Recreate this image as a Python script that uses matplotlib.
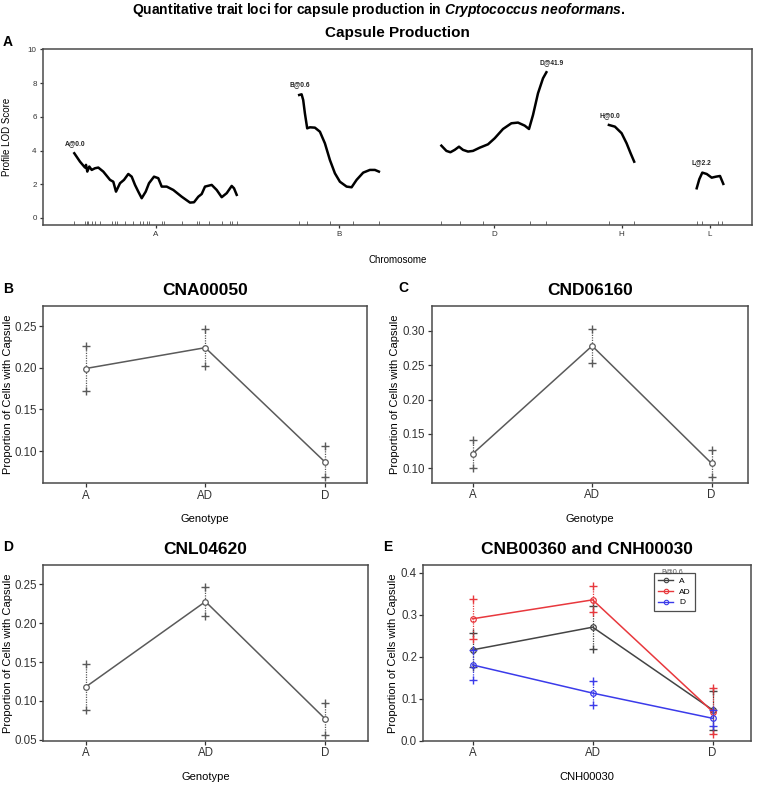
import matplotlib
matplotlib.use("Agg")
import matplotlib.pyplot as plt
from matplotlib.lines import Line2D
import numpy as np

plt.rcParams['font.family'] = ['Liberation Sans', 'DejaVu Sans']
plt.rcParams['mathtext.fontset'] = 'custom'
plt.rcParams['mathtext.it'] = 'Liberation Sans:italic:bold'
plt.rcParams['mathtext.rm'] = 'Liberation Sans:bold'

# --- Panel A: LOD profile per chromosome (position within chromosome, LOD) ---
chrom_names = ['A', 'B', 'D', 'H', 'L']
chrom_len = [162.4, 79.7, 105.0, 25.3, 26.6]
chrom_gap = 62.5

pos_A = [0, 5.7, 10.7, 11.7, 13, 15, 17.4, 20.7, 24, 29, 35.7, 39, 41.7, 45.7, 49.7,
         54, 57.4, 60.7, 64, 67.4, 71.4, 74.7, 79.7, 84, 87.4, 92.4, 99, 107.4, 115.7,
         119.7, 124, 127.4, 130.7, 137.4, 142.4, 147.4, 152.4, 157.4, 159.7, 162.4]
lod_A = [3.84, 3.34, 2.99, 3.15, 2.75, 3.05, 2.85, 2.95, 2.99, 2.75, 2.26, 2.15, 1.56,
         2.06, 2.26, 2.61, 2.45, 1.96, 1.56, 1.17, 1.56, 2.06, 2.45, 2.36, 1.86, 1.86,
         1.66, 1.26, 0.91, 0.93, 1.26, 1.42, 1.86, 1.96, 1.66, 1.23, 1.47, 1.90, 1.76, 1.37]
pos_B = [0, 2.4, 4, 5.7, 8, 10.7, 15.7, 20.7, 25.7, 30.7, 35.7, 40.7, 47.4, 52.4,
         57.4, 64, 70.7, 75.7, 79.7]
lod_B = [7.30, 7.34, 7.0, 6.21, 5.32, 5.38, 5.36, 5.12, 4.43, 3.44, 2.65, 2.15, 1.86,
         1.82, 2.26, 2.69, 2.85, 2.85, 2.75]
pos_D = [0, 5, 9, 13.3, 17.6, 21.6, 26.6, 31.6, 38.3, 46.6, 53.3, 61.6, 70, 76.6,
         83.3, 87.6, 91.6, 96.6, 101.6, 105]
lod_D = [4.29, 3.98, 3.90, 4.04, 4.23, 4.04, 3.94, 3.98, 4.17, 4.37, 4.73, 5.28, 5.62,
         5.66, 5.48, 5.28, 6.11, 7.40, 8.29, 8.65]
pos_H = [0, 6, 12.7, 17.7, 21.7, 25.3]
lod_H = [5.52, 5.42, 5.03, 4.43, 3.84, 3.34]
pos_L = [0, 2.6, 5.6, 10, 15, 19.3, 23.3, 26.6]
lod_L = [1.76, 2.30, 2.69, 2.61, 2.39, 2.45, 2.49, 2.02]

# genetic markers (rug)
mark_A = [0, 10.7, 12.4, 14, 17.4, 20.7, 25.7, 37.4, 40.7, 42.4, 50.7, 59, 65.7, 69,
          72.4, 74.7, 87.4, 89.7, 107.4, 122.4, 124.7, 135, 147.4, 155.7, 158, 162.4]
mark_B = [0, 8, 30.7, 54, 79.7]
mark_D = [0, 18.3, 41.6, 88.3, 105]
mark_H = [0, 25.3]
mark_L = [0.6, 5, 21.6, 25.6]

peak_labels = ['A@0.0', 'B@0.6', 'D@41.9', 'H@0.0', 'L@2.2']
peak_pos = [0.7, 0.7, 110.3, 1.0, 5.0]
peak_lod = [4.4, 7.9, 9.2, 6.1, 3.26]

# --- Panels B-E: effect plots ---
genotypes = ['A', 'AD', 'D']
cna00050_mean = [0.199, 0.224, 0.087]
cna00050_lo = [0.1725, 0.2015, 0.069]
cna00050_hi = [0.2255, 0.246, 0.106]
cnd06160_mean = [0.121, 0.278, 0.107]
cnd06160_lo = [0.101, 0.253, 0.088]
cnd06160_hi = [0.141, 0.302, 0.127]
cnl04620_mean = [0.118, 0.2275, 0.077]
cnl04620_lo = [0.0885, 0.209, 0.056]
cnl04620_hi = [0.147, 0.246, 0.097]

e_groups = ['A', 'AD', 'D']  # B@0.6 genotype
e_mean = [[0.216, 0.270, 0.073], [0.290, 0.335, 0.069], [0.180, 0.113, 0.053]]
e_lo = [[0.174, 0.219, 0.024], [0.242, 0.306, 0.016], [0.145, 0.084, 0.034]]
e_hi = [[0.257, 0.320, 0.119], [0.337, 0.367, 0.125], [0.215, 0.143, 0.072]]
e_colors = ['#444444', '#e8383d', '#3b3bea']

W, H = 757, 785
fig = plt.figure(figsize=(W / 100, H / 100), dpi=100)


def px_axes(l, t, r, b):
    ax = fig.add_axes([l / W, 1 - b / H, (r - l) / W, (b - t) / H])
    ax._box = (l, t, r, b)
    return ax


def place_labels(ax, xlab_y, ylab_x):
    # put axis labels at given pixel positions (centre of text)
    l, t, r, b = ax._box
    ax.xaxis.set_label_coords(0.5, (b - xlab_y) / (b - t))
    ax.yaxis.set_label_coords((ylab_x - l) / (r - l), 0.5)
    ax.xaxis.label.set_va('center')
    ax.yaxis.label.set_va('center')


def style(ax, fs=8.3):
    for s in ax.spines.values():
        s.set_color('#4a4a4a')
        s.set_linewidth(1.1)
    ax.tick_params(colors='#333333', labelsize=fs, length=3, width=0.9,
                   direction='out', pad=1.5)


# ---------- Panel A ----------
ax = px_axes(43, 49.5, 752, 225)
style(ax, fs=5.8)
ax.tick_params(length=2.5, pad=2)
starts = np.cumsum([0] + [c + chrom_gap for c in chrom_len[:-1]])
pos_all = [pos_A, pos_B, pos_D, pos_H, pos_L]
lod_all = [lod_A, lod_B, lod_D, lod_H, lod_L]
mark_all = [mark_A, mark_B, mark_D, mark_H, mark_L]
for i in range(len(chrom_names)):
    ax.plot(starts[i] + np.array(pos_all[i]), lod_all[i], color='black', lw=1.8,
            solid_joinstyle='round')
    ax.vlines(starts[i] + np.array(mark_all[i]), 0, 0.02, color='#555555', lw=0.6,
              transform=ax.get_xaxis_transform())
    ax.text(starts[i] + peak_pos[i], peak_lod[i], peak_labels[i], fontsize=4.8,
            fontweight='bold', ha='center', va='center', color='#222222')
ax.set_xticks(starts + np.array(chrom_len) / 2)
ax.set_xticklabels(chrom_names)
ax.set_yticks([0, 2, 4, 6, 8, 10])
ax.set_xlim(-31.3, starts[-1] + chrom_len[-1] + 28.7)
ax.set_ylim(-0.42, 10)
ax.set_xlabel('Chromosome', fontsize=7)
ax.set_ylabel('Profile LOD Score', fontsize=7)
place_labels(ax, 260, 7)
ax.set_title('Capsule Production', fontsize=11, fontweight='bold', pad=9)


def effect_panel(box, xlim, ylim, yticks, mean, lo, hi, title, xlabel, lab_xy,
                 color='#5a5a5a'):
    ax = px_axes(*box)
    style(ax)
    x = np.arange(1, len(genotypes) + 1)
    ax.vlines(x, lo, hi, colors=color, linestyles=(0, (1, 1)), lw=0.9)
    ax.plot(x, lo, '+', color=color, ms=6, mew=1.0)
    ax.plot(x, hi, '+', color=color, ms=6, mew=1.0)
    ax.plot(x, mean, '-o', color=color, lw=1.1, ms=4, mfc='white', mew=0.9)
    ax.set_xticks(x)
    ax.set_xticklabels(genotypes)
    ax.set_yticks(yticks)
    ax.set_yticklabels(['%.2f' % v for v in yticks])
    ax.set_xlim(*xlim)
    ax.set_ylim(*ylim)
    ax.set_xlabel(xlabel, fontsize=8)
    ax.set_ylabel('Proportion of Cells with Capsule', fontsize=8)
    place_labels(ax, *lab_xy)
    ax.set_title(title, fontsize=12.5, fontweight='bold', pad=8)
    return ax


effect_panel((43.3, 306, 366.7, 483.3), (0.646, 3.35), (0.0613, 0.274),
             [0.10, 0.15, 0.20, 0.25], cna00050_mean, cna00050_lo, cna00050_hi,
             'CNA00050', 'Genotype', (519, 8))
effect_panel((431.7, 306, 748.3, 482.7), (0.657, 3.307), (0.079, 0.336),
             [0.10, 0.15, 0.20, 0.25, 0.30], cnd06160_mean, cnd06160_lo, cnd06160_hi,
             'CND06160', 'Genotype', (519, 395))
effect_panel((43.3, 565, 368, 741), (0.646, 3.357), (0.0487, 0.2744),
             [0.05, 0.10, 0.15, 0.20, 0.25], cnl04620_mean, cnl04620_lo, cnl04620_hi,
             'CNL04620', 'Genotype', (777, 8))

# ---------- Panel E ----------
ax = px_axes(423.3, 565, 751, 741)
style(ax)
x = np.arange(1, len(genotypes) + 1)
handles = []
for g, m, lo, hi, c in zip(e_groups, e_mean, e_lo, e_hi, e_colors):
    ax.vlines(x, lo, hi, colors=c, linestyles=(0, (1, 1)), lw=0.9)
    ax.plot(x, lo, '+', color=c, ms=6, mew=1.0)
    ax.plot(x, hi, '+', color=c, ms=6, mew=1.0)
    ax.plot(x, m, '-o', color=c, lw=1.1, ms=4, mfc='none', mew=0.9)
    handles.append(Line2D([], [], color=c, lw=1.0, marker='o', ms=3.2, mfc='none', mew=0.8))
ax.set_xticks(x)
ax.set_xticklabels(genotypes)
ax.set_yticks([0.0, 0.1, 0.2, 0.3, 0.4])
ax.set_yticklabels(['0.0', '0.1', '0.2', '0.3', '0.4'])
ax.set_xlim(0.588, 3.32)
ax.set_ylim(-0.001, 0.418)
ax.set_xlabel('CNH00030', fontsize=8)
ax.set_ylabel('Proportion of Cells with Capsule', fontsize=8)
place_labels(ax, 777, 393)
ax.set_title('CNB00360 and CNH00030', fontsize=12.5, fontweight='bold', pad=8)
leg = ax.legend(handles, e_groups, loc='upper left', bbox_to_anchor=(0.704, 0.955),
                fontsize=6, frameon=True, fancybox=False, handlelength=1.8,
                handletextpad=0.7, borderpad=0.5, labelspacing=0.35, borderaxespad=0)
leg.get_frame().set_edgecolor('#222222')
leg.get_frame().set_linewidth(0.9)
ax.text(0.76, 0.962, 'B@0.6', transform=ax.transAxes, fontsize=5, ha='center',
        va='center', color='#555555')

# figure title and panel letters
fig.text(0.5, 1 - 10 / H,
         r'Quantitative trait loci for capsule production in $\mathit{Cryptococcus\ neoformans}$.',
         ha='center', va='center', fontsize=10, fontweight='bold')
for lab, px, py in [('A', 8, 42), ('B', 8, 289), ('C', 403, 288), ('D', 8, 547), ('E', 388, 547)]:
    fig.text(px / W, 1 - py / H, lab, fontsize=10, fontweight='bold', ha='center', va='center')

fig.savefig('out.png', dpi=100)
